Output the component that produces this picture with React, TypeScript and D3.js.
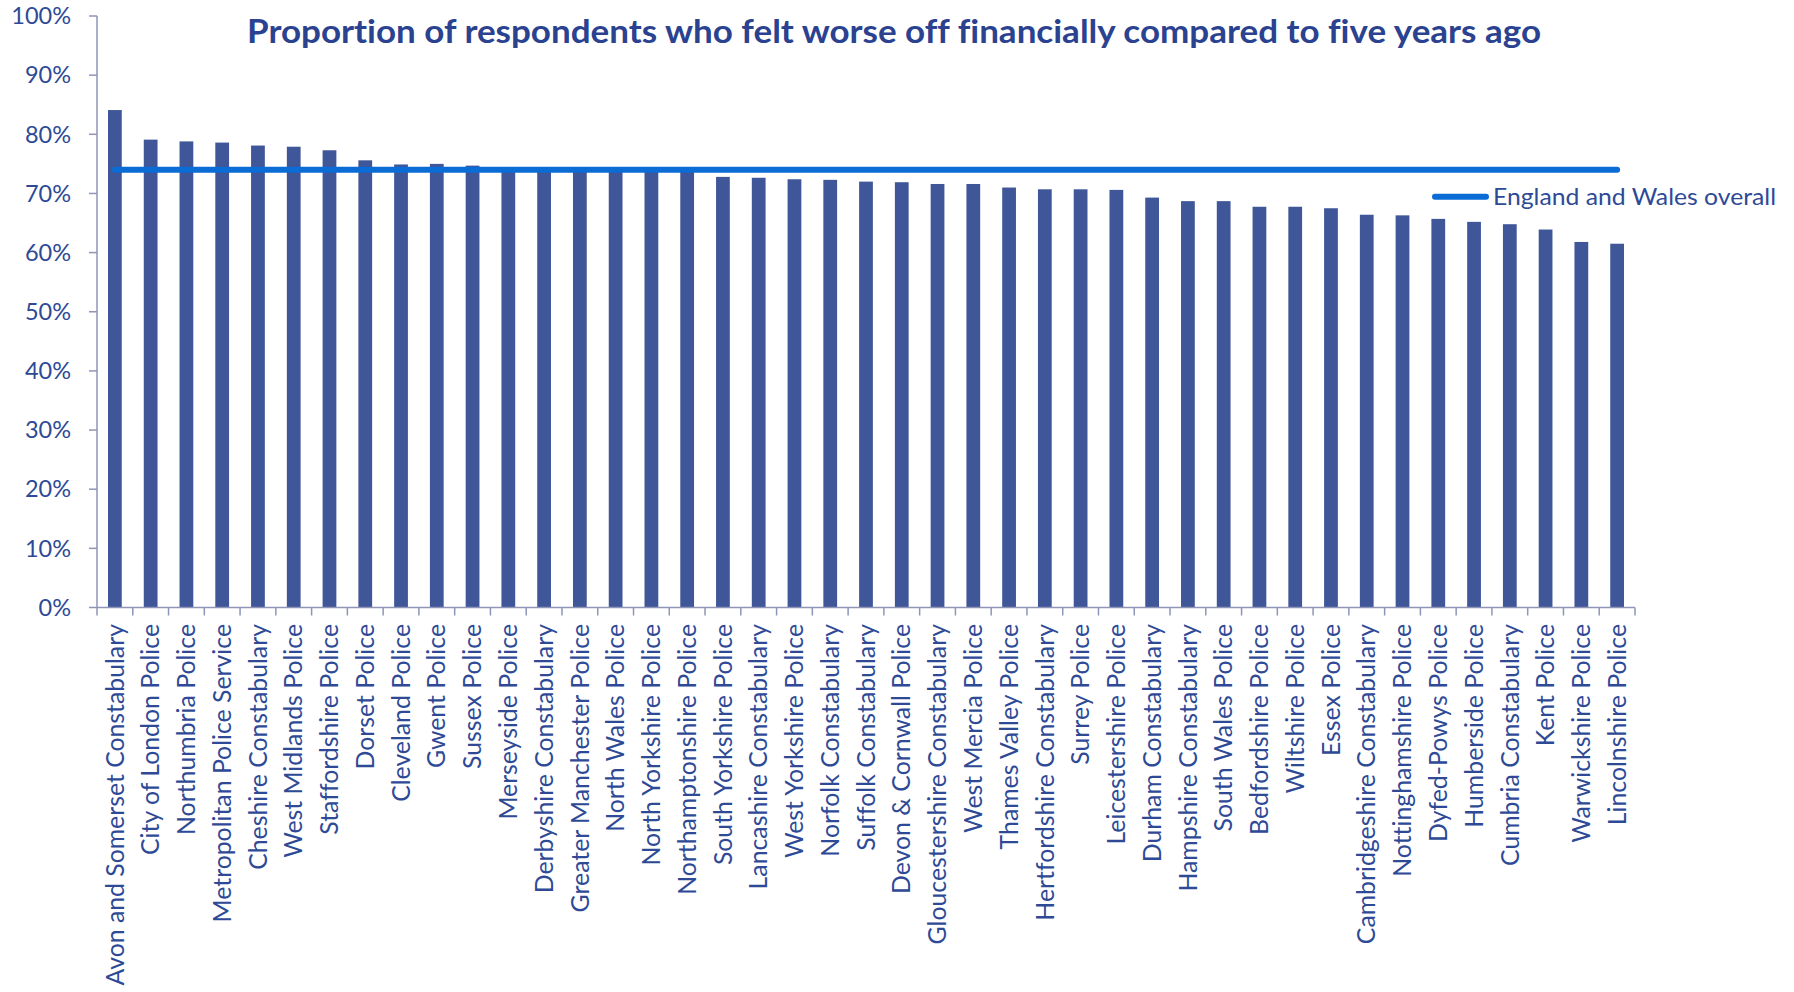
import React from "react";
import * as d3 from "d3";

// forces, in the order shown
const forces = [
  "Avon and Somerset Constabulary", "City of London Police", "Northumbria Police",
  "Metropolitan Police Service", "Cheshire Constabulary", "West Midlands Police",
  "Staffordshire Police", "Dorset Police", "Cleveland Police", "Gwent Police",
  "Sussex Police", "Merseyside Police", "Derbyshire Constabulary",
  "Greater Manchester Police", "North Wales Police", "North Yorkshire Police",
  "Northamptonshire Police", "South Yorkshire Police", "Lancashire Constabulary",
  "West Yorkshire Police", "Norfolk Constabulary", "Suffolk Constabulary",
  "Devon & Cornwall Police", "Gloucestershire Constabulary", "West Mercia Police",
  "Thames Valley Police", "Hertfordshire Constabulary", "Surrey Police",
  "Leicestershire Police", "Durham Constabulary", "Hampshire Constabulary",
  "South Wales Police", "Bedfordshire Police", "Wiltshire Police", "Essex Police",
  "Cambridgeshire Constabulary", "Nottinghamshire Police", "Dyfed-Powys Police",
  "Humberside Police", "Cumbria Constabulary", "Kent Police",
  "Warwickshire Police", "Lincolnshire Police",
];

// % who felt worse off
const worseOff = [
  84.1, 79.1, 78.8, 78.6, 78.1, 77.9, 77.3, 75.6, 74.9, 75.0,
  74.7, 74.4, 74.3, 74.2, 74.1, 74.0, 73.9, 72.8, 72.65, 72.4,
  72.3, 72.0, 71.9, 71.6, 71.6, 71.0, 70.7, 70.7, 70.6, 69.3,
  68.7, 68.7, 67.75, 67.75, 67.5, 66.4, 66.3, 65.7, 65.2, 64.8,
  63.9, 61.8, 61.5,
];

// England and Wales overall
const overall = 74.0;

const yTicks = [0, 10, 20, 30, 40, 50, 60, 70, 80, 90, 100];

const W = 1794;
const H = 992;
const left = 97;
const right = 1635;
const top = 16;
const bottom = 607.5;

const font = "Lato, 'Open Sans', sans-serif";
const textCol = "#2E4A96";
const barCol = "#3F5698";
const lineCol = "#0B6CD6";
const axisCol = "#8F95B6";

export default function App() {
  const x = d3.scaleBand().domain(forces).range([left, right]).padding(0);
  const y = d3.scaleLinear().domain([0, 100]).range([bottom, top]);
  const barW = x.bandwidth() / 2.6;
  const cx = (f: string) => (x(f) as number) + x.bandwidth() / 2;

  const linePath = d3
    .line<string>()
    .x((f) => cx(f))
    .y(() => y(overall))(forces);

  const boundaries = forces.map((f) => x(f) as number).concat([right]);

  return (
    <svg width={W} height={H} style={{ position: "absolute", left: 0, top: 0, fontVariantLigatures: "none" }}>
      <rect width={W} height={H} fill="#fff" />
      <text
        x={894}
        y={43}
        textAnchor="middle"
        fontFamily={font}
        fontWeight={700}
        fontSize={33}
        fill="#2A4290"
        textLength={1294}
        lengthAdjust="spacingAndGlyphs"
      >
        Proportion of respondents who felt worse off financially compared to five years ago
      </text>

      {/* y axis */}
      <line x1={left} x2={left} y1={top} y2={bottom} stroke={axisCol} strokeWidth={1.5} />
      {yTicks.map((t) => (
        <g key={t}>
          <line x1={left - 8} x2={left} y1={y(t)} y2={y(t)} stroke={axisCol} strokeWidth={1.5} />
          <text
            x={71}
            y={y(t)}
            dy="0.35em"
            textAnchor="end"
            fontFamily={font}
            fontSize={23.5}
            fill={textCol}
          >
            {t}%
          </text>
        </g>
      ))}

      {/* bars */}
      {forces.map((f, i) => (
        <rect
          key={f}
          x={cx(f) - barW / 2}
          y={y(worseOff[i])}
          width={barW}
          height={y(0) - y(worseOff[i])}
          fill={barCol}
        />
      ))}

      {/* x axis */}
      <line x1={left} x2={right} y1={bottom} y2={bottom} stroke={axisCol} strokeWidth={1.5} />
      {boundaries.map((b, i) => (
        <line key={i} x1={b} x2={b} y1={bottom} y2={bottom + 8} stroke={axisCol} strokeWidth={1.5} />
      ))}
      {forces.map((f) => (
        <text
          key={f}
          transform={`translate(${cx(f)},624) rotate(-90)`}
          dy="0.35em"
          textAnchor="end"
          fontFamily={font}
          fontSize={24.8}
          fill={textCol}
        >
          {f}
        </text>
      ))}

      {/* overall line */}
      <path
        d={linePath ?? ""}
        fill="none"
        stroke={lineCol}
        strokeWidth={6}
        strokeLinecap="round"
      />

      {/* legend */}
      <line x1={1435} x2={1486} y1={196.7} y2={196.7} stroke={lineCol} strokeWidth={6} strokeLinecap="round" />
      <text
        x={1493}
        y={196.7}
        dy="0.35em"
        fontFamily={font}
        fontSize={23.5}
        fill={textCol}
        textLength={283}
        lengthAdjust="spacingAndGlyphs"
      >
        England and Wales overall
      </text>
    </svg>
  );
}
